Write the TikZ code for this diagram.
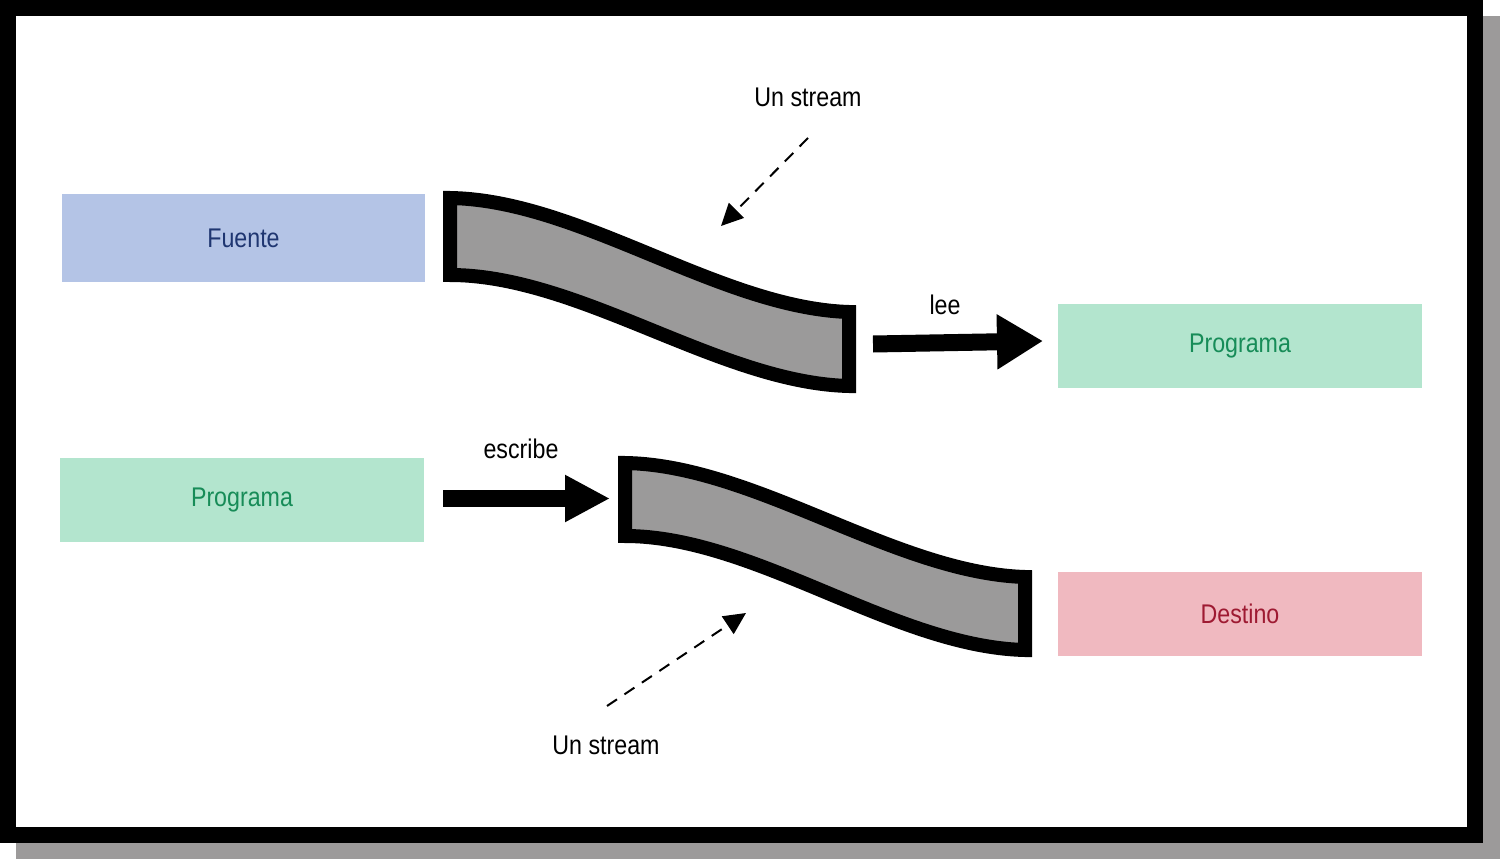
\documentclass[tikz,border=0pt]{standalone}
\usepackage{fontspec}
\setmainfont{Liberation Sans}[FakeStretch=0.86]
\usetikzlibrary{arrows.meta}
\definecolor{shadowgray}{RGB}{156,154,154}
\definecolor{streamgray}{RGB}{155,154,154}
\definecolor{fuentefill}{RGB}{180,196,230}
\definecolor{fuentetext}{RGB}{31,54,113}
\definecolor{progfill}{RGB}{179,229,206}
\definecolor{progtext}{RGB}{23,140,88}
\definecolor{destfill}{RGB}{240,185,192}
\definecolor{desttext}{RGB}{158,26,50}
\begin{document}
\begin{tikzpicture}[x=1pt,y=-1pt,
  box/.style={minimum width=364pt, minimum height=84pt, inner sep=0pt, font=\fontsize{27}{32}\selectfont},
  lbl/.style={font=\fontsize{27}{32}\selectfont, inner sep=0pt},
  stream/.style={draw=black, line width=14pt, fill=streamgray, miter limit=20},
  bigarrow/.style={line width=17pt, -{Triangle[length=46pt,width=52pt]}},
  bigarrowb/.style={line width=17pt, -{Triangle[length=45pt,width=44pt]}},
  hint/.style={line width=2pt, dash pattern=on 12pt off 9pt, -{Triangle[length=22pt,width=21pt]}}]
\useasboundingbox (0,0) rectangle (1500,859);
% shadow and frame
\fill[shadowgray] (16,16) rectangle (1500,859);
\draw[line width=16pt, fill=white] (8,8) rectangle (1475,835);
% boxes
\node[box, fill=fuentefill, text=fuentetext, minimum width=363pt, minimum height=88pt] (fuente) at (243.5,238) {Fuente};
\node[box, fill=progfill, text=progtext] (prog1) at (1240,346) {Programa};
\node[box, fill=progfill, text=progtext] (prog2) at (242,500) {Programa};
\node[box, fill=destfill, text=desttext] (destino) at (1240,614) {Destino};
% streams
\draw[stream] (450,198) .. controls (580,200) and (720,308) .. (849,312) -- (849,386) .. controls (720,383) and (580,275) .. (450,275) -- cycle;
\draw[stream] (625,463) .. controls (755,465) and (895,573) .. (1025,577) -- (1025,650) .. controls (895,647) and (755,536) .. (625,536) -- cycle;
% arrow ends
\coordinate (leeS) at (873,344);
\coordinate (leeE) at (1043,341);
\coordinate (escS) at (443,498.5);
\coordinate (escE) at (610,498.5);
\coordinate (h1S) at (808,138);
\coordinate (h1E) at (721,226);
\coordinate (h2S) at (607,706);
\coordinate (h2E) at (746,613);
% arrows
\draw[bigarrow] (leeS) -- (leeE);
\draw[bigarrowb] (escS) -- (escE);
\draw[hint] (h1S) -- (h1E);
\draw[hint] (h2S) -- (h2E);
% labels
\node[lbl] (us1) at (808,97) {Un stream};
\node[lbl] (lee) at (945,305) {lee};
\node[lbl] (esc) at (521,449) {escribe};
\node[lbl] (us2) at (606,745) {Un stream};
\end{tikzpicture}
\end{document}
